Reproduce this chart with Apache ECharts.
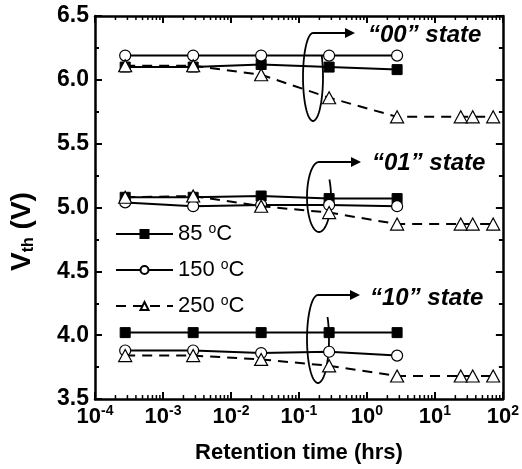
<!DOCTYPE html>
<html>
<head>
<meta charset="utf-8">
<script src="https://cdn.jsdelivr.net/npm/echarts@6/dist/echarts.min.js"></script>
<style>
  html, body { margin: 0; padding: 0; background: #fff; }
  #chart { width: 522px; height: 469px; }
</style>
</head>
<body>
<div id="chart"></div>
<script>
// retention time (hrs): 1 s, 10 s, 100 s, 1000 s, 10000 s, then 24 / 36 / 72 h at 250 °C
const timesShort = [2.78e-4, 2.78e-3, 2.78e-2, 0.278, 2.78]
const timesLong = [2.78e-4, 2.78e-3, 2.78e-2, 0.278, 2.78, 24, 36, 72]

// "00" state
const s00_85 = [6.10, 6.10, 6.12, 6.10, 6.08]
const s00_150 = [6.19, 6.19, 6.19, 6.19, 6.19]
const s00_250 = [6.11, 6.11, 6.04, 5.86, 5.71, 5.71, 5.71, 5.71]
// "01" state
const s01_85 = [5.08, 5.08, 5.09, 5.07, 5.07]
const s01_150 = [5.04, 5.01, 5.02, 5.02, 5.01]
const s01_250 = [5.08, 5.09, 5.01, 4.96, 4.87, 4.87, 4.87, 4.87]
// "10" state
const s10_85 = [4.02, 4.02, 4.02, 4.02, 4.02]
const s10_150 = [3.88, 3.88, 3.86, 3.87, 3.84]
const s10_250 = [3.84, 3.84, 3.81, 3.76, 3.68, 3.68, 3.68, 3.68]

const legendNames = ['85', '150', '250']
const stateLabels = ['\u201c00\u201d state', '\u201c01\u201d state', '\u201c10\u201d state']

// log minor tick positions (2..9 x 10^n)
const minorTicks = []
for (let e = -4; e < 2; e++) {
  for (let k = 2; k < 10; k++) minorTicks.push([k * Math.pow(10, e), 3.5])
}

const FONT = 'Arial, "Liberation Sans", sans-serif'
const pair = (xs, ys) => ys.map((v, i) => [xs[i], v])

const chart = echarts.init(document.getElementById('chart'))

//series styles
const lineBase = { color: '#000', width: 2 }
const mk85 = (data) => ({
  name: '85', type: 'line', data, symbol: 'rect', symbolSize: 10,
  itemStyle: { color: '#000', borderColor: '#000', borderWidth: 1 },
  lineStyle: lineBase, z: 3
})
const mk150 = (data) => ({
  name: '150', type: 'line', data, symbol: 'circle', symbolSize: 11,
  itemStyle: { color: '#fff', borderColor: '#000', borderWidth: 1.2 },
  lineStyle: lineBase, z: 4
})
const mk250 = (data) => ({
  name: '250', type: 'line', data, symbol: 'triangle', symbolSize: [13, 12],
  itemStyle: { color: '#fff', borderColor: '#000', borderWidth: 1.2 },
  lineStyle: { color: '#000', width: 2, type: [10, 7] }, z: 5
})

// ellipse-ish loop with arrow (annotation)
const loopArrow = (cx, cy, rx, ry, tipX) => {
  const pts = []
  for (let a = 270; a >= -30; a -= 5) {
    const t = a * Math.PI / 180
    pts.push([cx + rx * Math.cos(t), cy + ry * Math.sin(t)])
  }
  const top = cy - ry
  return [
    { type: 'polyline', shape: { points: pts }, style: { stroke: '#000', lineWidth: 1.8, fill: null } },
    { type: 'polyline', shape: { points: [[cx, top], [tipX - 8, top]] }, style: { stroke: '#000', lineWidth: 1.8, fill: null } },
    { type: 'polygon', shape: { points: [[tipX - 10, top - 5], [tipX, top], [tipX - 10, top + 5]] }, style: { fill: '#000' } }
  ]
}
const stateText = (x, y, text) => ({
  type: 'text', x, y,
  style: { text, fill: '#000', font: 'italic bold 24px ' + FONT, verticalAlign: 'middle' }
})

chart.setOption({
  animation: false,
  backgroundColor: '#fff',
  grid: { left: 92, right: 15, top: 16, bottom: 69 },
  legend: {
    data: legendNames,
    orient: 'vertical',
    left: 110,
    top: 217,
    itemWidth: 57,
    itemHeight: 10,
    itemGap: 13,
    selectedMode: false,
    formatter: (name) => name + ' {o|o}C',
    textStyle: {
      fontFamily: FONT, fontSize: 22, color: '#000',
      rich: { o: { fontFamily: FONT, fontSize: 14, color: '#000', padding: [0, 0, 10, 0] } }
    }
  },
  xAxis: [
    {
      type: 'log', logBase: 10, min: 1e-4, max: 100,
      name: 'Retention time (hrs)', nameLocation: 'middle', nameGap: 43,
      nameTextStyle: { fontFamily: FONT, fontSize: 22, fontWeight: 'bold', color: '#000' },
      axisLine: { lineStyle: { color: '#000', width: 2.5 } },
      axisTick: { inside: true, length: 7, lineStyle: { color: '#000', width: 2 } },
      splitLine: { show: false },
      axisLabel: {
        margin: 5,
        formatter: (v) => '{b|10}{s|' + Math.round(Math.log10(v)) + '}',
        rich: {
          b: { fontFamily: FONT, fontSize: 22, fontWeight: 'bold', color: '#000' },
          s: { fontFamily: FONT, fontSize: 14, fontWeight: 'bold', color: '#000', padding: [0, 0, 12, 0] }
        }
      }
    },
    {
      type: 'log', logBase: 10, min: 1e-4, max: 100, position: 'top',
      axisLine: { lineStyle: { color: '#000', width: 2.5 } },
      axisTick: { inside: true, length: 7, lineStyle: { color: '#000', width: 2 } },
      axisLabel: { show: false }, splitLine: { show: false }
    }
  ],
  yAxis: [
    {
      type: 'value', min: 3.5, max: 6.5, interval: 0.5,
      name: 'V{sub|th} (V)', nameLocation: 'middle', nameGap: 58, nameRotate: 90,
      nameTextStyle: {
        fontFamily: FONT, fontSize: 28, fontWeight: 'bold', color: '#000', padding: [0, 48, 0, 0],
        rich: { sub: { fontFamily: FONT, fontSize: 16, fontWeight: 'bold', color: '#000', padding: [14, 0, 0, 0] } }
      },
      axisLine: { lineStyle: { color: '#000', width: 2.5 } },
      axisTick: { inside: true, length: 7, lineStyle: { color: '#000', width: 2 } },
      minorTick: { show: true, splitNumber: 2, length: 4, lineStyle: { color: '#000', width: 2 } },
      splitLine: { show: false },
      axisLabel: {
        margin: 6,
        formatter: (v) => v.toFixed(1),
        fontFamily: FONT, fontSize: 23, fontWeight: 'bold', color: '#000'
      }
    },
    {
      type: 'value', min: 3.5, max: 6.5, interval: 0.5, position: 'right',
      axisLine: { show: true, lineStyle: { color: '#000', width: 2.5 } },
      axisTick: { show: true, inside: true, length: 7, lineStyle: { color: '#000', width: 2 } },
      minorTick: { show: true, splitNumber: 2, length: 4, lineStyle: { color: '#000', width: 2 } },
      axisLabel: { show: false }, splitLine: { show: false }
    }
  ],
  series: [
    mk85(pair(timesShort, s00_85)), mk150(pair(timesShort, s00_150)), mk250(pair(timesLong, s00_250)),
    mk85(pair(timesShort, s01_85)), mk150(pair(timesShort, s01_150)), mk250(pair(timesLong, s01_250)),
    mk85(pair(timesShort, s10_85)), mk150(pair(timesShort, s10_150)), mk250(pair(timesLong, s10_250)),
    {
      type: 'custom', silent: true, data: minorTicks, clip: false, z: 2,
      renderItem: (params, api) => {
        const x = api.coord([api.value(0), 3.5])[0]
        const yb = params.coordSys.y + params.coordSys.height
        const yt = params.coordSys.y
        const st = { stroke: '#000', lineWidth: 1.5 }
        return {
          type: 'group', children: [
            { type: 'line', shape: { x1: x, y1: yb, x2: x, y2: yb - 4 }, style: st },
            { type: 'line', shape: { x1: x, y1: yt, x2: x, y2: yt + 4 }, style: st }
          ]
        }
      }
    }
  ],
  graphic: [
    ...loopArrow(313, 77, 10, 44, 355),
    ...loopArrow(319, 197, 12, 35, 361),
    ...loopArrow(318, 339, 11, 44, 360),
    stateText(368, 35, stateLabels[0]),
    stateText(372, 163, stateLabels[1]),
    stateText(370, 298, stateLabels[2])
  ]
})
</script>
</body>
</html>
